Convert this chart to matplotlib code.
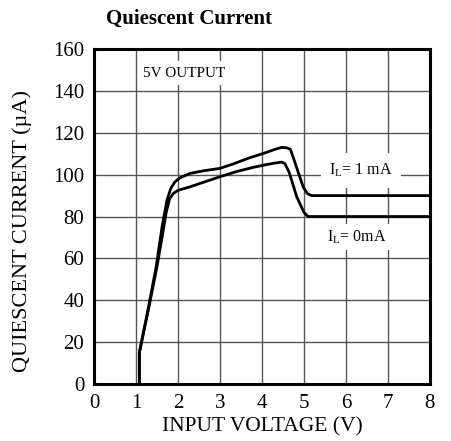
import matplotlib
matplotlib.use("Agg")
import matplotlib.pyplot as plt

plt.rcParams['font.family'] = ['Liberation Serif', 'DejaVu Serif']

# IL = 1 mA (upper curve)
v_1ma = [1.08, 1.08, 1.30, 1.48, 1.62, 1.74, 1.83, 1.93, 2.05, 2.29, 2.60, 3.00, 3.30, 3.70, 4.03, 4.30, 4.47, 4.60, 4.68, 4.80, 4.98, 5.08, 5.18, 5.40, 8.00]
i_1ma = [0.0, 15.0, 37.0, 56.0, 75.0, 88.0, 93.5, 96.6, 98.5, 100.6, 101.8, 103.0, 105.0, 108.0, 110.1, 112.0, 113.0, 112.8, 112.0, 105.0, 94.2, 91.0, 90.0, 90.0, 90.0]

# IL = 0 mA (lower curve)
v_0ma = [1.08, 1.08, 1.30, 1.50, 1.62, 1.72, 1.80, 1.89, 2.00, 2.29, 2.60, 3.00, 3.40, 3.80, 4.03, 4.30, 4.47, 4.55, 4.65, 4.83, 5.00, 5.10, 5.30, 8.00]
i_0ma = [0.0, 15.0, 36.0, 56.0, 70.0, 82.0, 88.5, 91.0, 92.5, 94.2, 96.3, 99.0, 101.5, 103.5, 104.5, 105.5, 106.0, 105.2, 101.0, 89.4, 82.0, 80.0, 80.0, 80.0]

x_ticks = [0, 1, 2, 3, 4, 5, 6, 7, 8]
y_ticks = [0, 20, 40, 60, 80, 100, 120, 140, 160]

fig = plt.figure(figsize=(4.52, 4.41), dpi=100)
ax = fig.add_axes([0.208, 0.129, 0.743, 0.760])

ax.set_xlim(0, 8)
ax.set_ylim(0, 160)
ax.set_xticks(x_ticks)
ax.set_yticks(y_ticks)
ax.tick_params(length=0, labelsize=15, pad=7)
ax.grid(True, color='#555555', linewidth=1.0)
ax.set_axisbelow(True)
for s in ax.spines.values():
    s.set_linewidth(2.2)
    s.set_color('black')

ax.plot(v_1ma, i_1ma, color='black', linewidth=2.0, solid_capstyle='butt', zorder=3)
ax.plot(v_0ma, i_0ma, color='black', linewidth=2.0, solid_capstyle='butt', zorder=3)

# white boxes for labels
ax.text(1.17, 148.5, '5V OUTPUT', fontsize=11, va='center', ha='left',
        bbox=dict(facecolor='white', edgecolor='none', pad=4), zorder=4)
ax.text(5.6, 102, r'I$_\mathregular{L}$= 1 mA', fontsize=11.5, va='center', ha='left',
        bbox=dict(facecolor='white', edgecolor='none', pad=6), zorder=4)
ax.text(5.55, 70, r'I$_\mathregular{L}$= 0mA', fontsize=11.5, va='center', ha='left',
        bbox=dict(facecolor='white', edgecolor='none', pad=3), zorder=4)

ax.set_xlabel('INPUT VOLTAGE (V)', fontsize=15.5, labelpad=3)
ax.set_ylabel('QUIESCENT CURRENT (µA)', fontsize=16)
ax.yaxis.set_label_coords(-0.185, 0.457)

fig.text(0.234, 0.958, 'Quiescent Current', fontsize=15, fontweight='bold', ha='left', va='center')

fig.savefig('out.png', dpi=100)
